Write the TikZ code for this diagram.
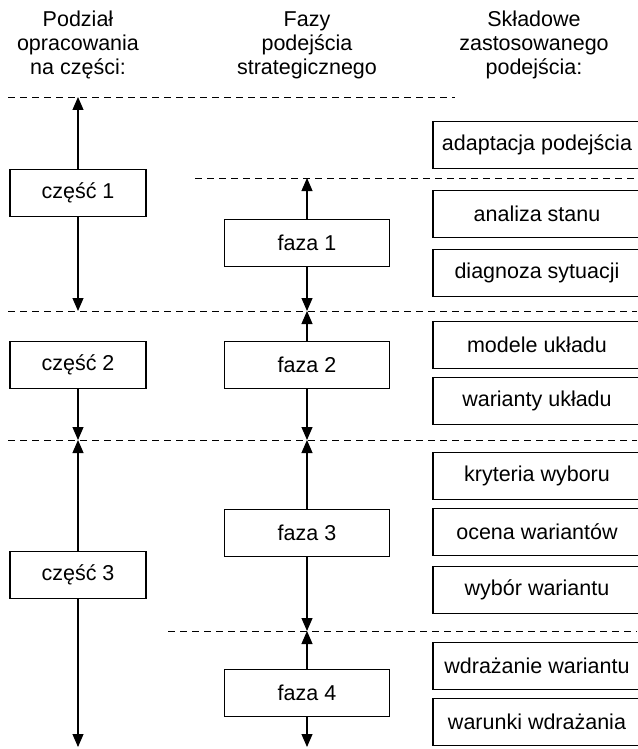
\documentclass[tikz,border=0pt]{standalone}
\usepackage{fontspec}
\setmainfont{Liberation Sans}
\usetikzlibrary{arrows.meta}

\begin{document}
\begin{tikzpicture}[x=1pt, y=1pt, line width=1.1pt,
    every node/.style={font=\fontsize{21.5}{24}\selectfont},
    czbox/.style={rectangle, draw, minimum width=136, minimum height=47},
    fazabox/.style={rectangle, draw, minimum width=165, minimum height=47},
    sklbox/.style={rectangle, draw, minimum width=208, minimum height=47},
    sep/.style={dash pattern=on 7pt off 5pt, line width=0.9pt},
    arr/.style={-{Triangle[width=11pt,length=13pt]}}]
    \useasboundingbox (0,0) rectangle (637,-749);
    % Column headers
    \node[align=center] (H1) at (78,-45) {Podział\\opracowania\\na części:};
    \node[align=center] (H2) at (307,-45) {Fazy\\podejścia\\strategicznego};
    \node[align=center] (H3) at (534,-45) {Składowe\\zastosowanego\\podejścia:};

    % Dashed separators
    \draw[sep] (8,-97) -- (455,-97);
    \draw[sep] (195,-178) -- (637,-178);
    \draw[sep] (8,-311) -- (637,-311);
    \draw[sep] (8,-440) -- (637,-440);
    \draw[sep] (168,-631) -- (637,-631);

    % Parts (left column)
    \node[czbox] (CZ1) at (78,-193) {część 1};
    \node[czbox] (CZ2) at (78,-365) {część 2};
    \node[czbox] (CZ3) at (78,-575) {część 3};
    % Phases (middle column)
    \node[fazabox] (F1) at (307,-243) {faza 1};
    \node[fazabox] (F2) at (307,-365) {faza 2};
    \node[fazabox] (F3) at (307,-533) {faza 3};
    \node[fazabox] (F4) at (307,-693) {faza 4};
    % Components (right column)
    \foreach \y/\t [count=\k] in {145/adaptacja podejścia, 214/analiza stanu,
        273/diagnoza sytuacji, 345/modele układu, 401/warianty układu,
        476/kryteria wyboru, 532/ocena wariantów, 590/wybór wariantu,
        666/wdrażanie wariantu, 722/warunki wdrażania} {
        \node[sklbox] (S\k) at (537,-\y) {\t};
    }

    % Arrow ends on the separators
    \foreach \n/\y in {0/97, 1/311, 2/440, 3/747} {
        \coordinate (CE\n) at (78,-\y);
    }
    \foreach \n/\y in {0/178, 1/311, 2/440, 3/631, 4/747} {
        \coordinate (FE\n) at (307,-\y);
    }

    % Connections: parts
    \draw[arr] (CZ1) -- (CE0);
    \draw[arr] (CZ1) -- (CE1);
    \draw[arr] (CZ2) -- (CE2);
    \draw[arr] (CZ3) -- (CE2);
    \draw[arr] (CZ3) -- (CE3);
    % Connections: phases
    \foreach \j in {1,...,4} {
        \pgfmathtruncatemacro{\a}{\j-1}
        \draw[arr] (F\j) -- (FE\a);
        \draw[arr] (F\j) -- (FE\j);
    }
\end{tikzpicture}
\end{document}
